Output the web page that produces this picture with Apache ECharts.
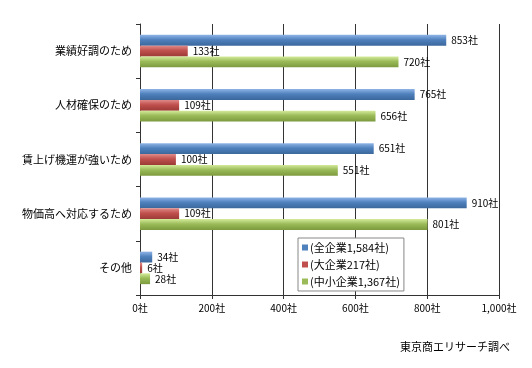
<!DOCTYPE html>
<html><head><meta charset="utf-8">
<script src="https://cdn.jsdelivr.net/npm/echarts@6/dist/echarts.min.js"></script>
<style>html,body{margin:0;padding:0;background:#fff}#c{width:532px;height:368px}</style>
</head><body><div id="c"></div>
<script>
const categories = ['業績好調のため','人材確保のため','賃上げ機運が強いため','物価高へ対応するため','その他'];
const seriesNames = ['(全企業1,584社)','(大企業217社)','(中小企業1,367社)'];
const allCompanies = [853,765,651,910,34];
const largeCompanies = [133,109,100,109,6];
const smeCompanies = [720,656,551,801,28];
const xTicks = [0,200,400,600,800,1000];
const FONT = '"Noto Sans CJK JP", sans-serif';
function grad(top, mid, bot){
  return new echarts.graphic.LinearGradient(0,0,0,1,[{offset:0,color:top},{offset:0.45,color:mid},{offset:1,color:bot}]);
}
const colors = [
  ['#8fb4e6','#4f81bd','#3b679c'],
  ['#e08a88','#c0504d','#9c3a37'],
  ['#d4eb9a','#9bbb59','#7c9a3e']
];
const legendColors = ['#4f81bd','#c0504d','#9bbb59'];
const dataSets = [allCompanies, largeCompanies, smeCompanies];
const chart = echarts.init(document.getElementById('c'), null, {renderer:'canvas'});
chart.setOption({
  animation:false,
  textStyle:{fontFamily:FONT},
  grid:{left:140,right:33,top:24,bottom:73,containLabel:false},
  legend:{
    orient:'vertical', left:298, top:238, width:108,
    data:seriesNames.map((n,i)=>({name:n,itemStyle:{color:legendColors[i]}})),
    icon:'rect', itemWidth:6, itemHeight:6, itemGap:6,
    borderColor:'#888', borderWidth:1, padding:[4,4,4,4],
    textStyle:{fontSize:11,color:'#000',fontFamily:FONT,padding:[0,0,0,-3]},
    backgroundColor:'#fff'
  },
  xAxis:{
    type:'value', min:0, max:1000, interval:200,
    axisLine:{show:true,lineStyle:{color:'#333'}},
    axisTick:{show:true,length:4,lineStyle:{color:'#333'}},
    splitLine:{show:true,lineStyle:{color:'#333',width:1}},
    axisLabel:{fontSize:10,color:'#000',margin:8,formatter:v=>v.toLocaleString('en-US')+'社'}
  },
  yAxis:{
    type:'category', data:categories, inverse:true,
    axisLine:{show:true,lineStyle:{color:'#333'}},
    axisTick:{show:true,length:4,lineStyle:{color:'#333'}},
    axisLabel:{fontSize:11,color:'#000',margin:8}
  },
  series:dataSets.map((d,i)=>({
    name:seriesNames[i], type:'bar', data:d,
    barGap:'0%', barCategoryGap:'40%',
    itemStyle:{color:grad(...colors[i])},
    label:{show:true,position:'right',distance:5,fontSize:10,color:'#000',formatter:p=>p.value+'社'}
  })),
  graphic:[{type:'text',right:22,top:341,style:{text:'東京商エリサーチ調べ',font:'11px '+FONT,fill:'#000'}}]
});
</script></body></html>
